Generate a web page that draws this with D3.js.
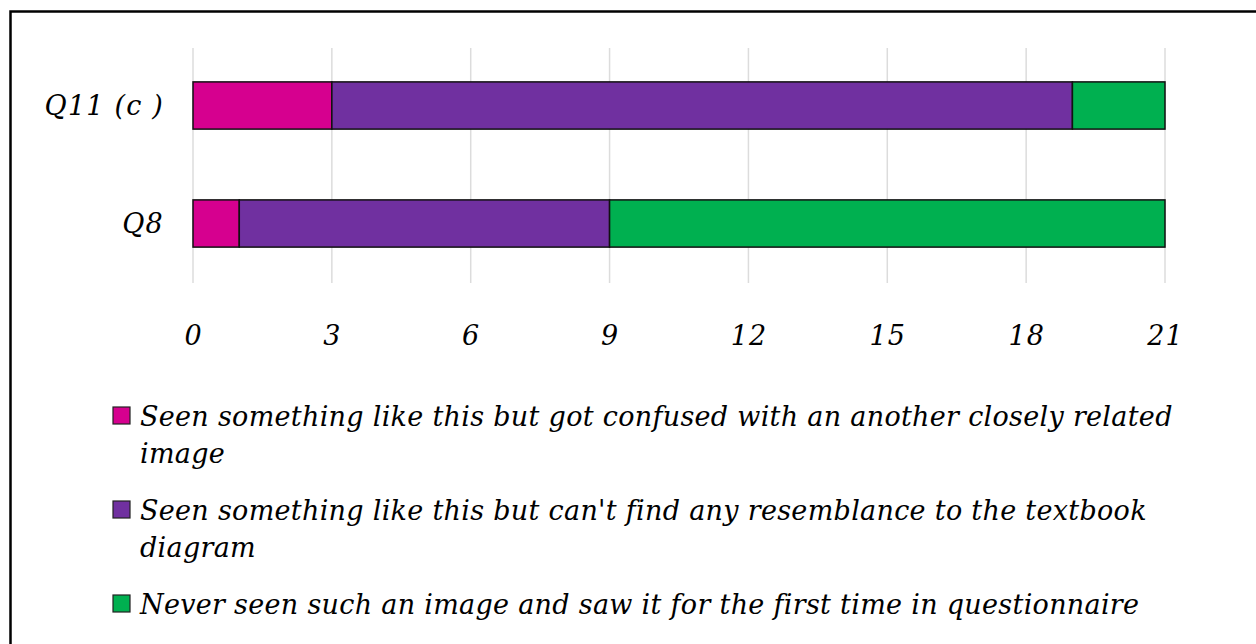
<html>
<head>
<meta charset="utf-8">
<style>
  body { margin: 0; background: #fff; }
  text { font-family: "DejaVu Serif", serif; font-style: italic; }
</style>
</head>
<body>
<script src="https://cdn.jsdelivr.net/npm/d3@7/dist/d3.min.js"></script>
<script>
var width = 1256;
var height = 644;

// data
var categories = ["Q11 (c )", "Q8"];
var seriesNames = [
  "Seen something like this but got confused with an another closely related image",
  "Seen something like this but can't find any resemblance to the textbook diagram",
  "Never seen such an image and saw it for the first time in questionnaire"
];
var confused = [3, 1];
var noResemblance = [16, 8];
var neverSeen = [2, 12];
var tickValues = [0, 3, 6, 9, 12, 15, 18, 21];
var colors = ["#d6008f", "#7030a0", "#00b050"];

var svg = d3.select("body").append("svg")
  .attr("width", width)
  .attr("height", height);

svg.append("rect").attr("width", width).attr("height", height).attr("fill", "#fff");

// outer frame (right and bottom edges fall outside the picture)
svg.append("rect")
  .attr("x", 10.5).attr("y", 11.5)
  .attr("width", width).attr("height", height)
  .attr("fill", "none")
  .attr("stroke", "#000")
  .attr("stroke-width", 2.5);

var x = d3.scaleLinear().domain([0, 21]).range([193, 1165]);
var y = d3.scaleBand().domain(categories).range([46.5, 282.5])
  .paddingInner(0.6).paddingOuter(0.3);

// gridlines
svg.append("g").selectAll("line")
  .data(tickValues)
  .enter().append("line")
  .attr("x1", function(d) { return x(d); })
  .attr("x2", function(d) { return x(d); })
  .attr("y1", 48).attr("y2", 283)
  .attr("stroke", "#dcdcdc")
  .attr("stroke-width", 1.5);

// stack the series
var rows = categories.map(function(c, i) {
  return { cat: c, s0: confused[i], s1: noResemblance[i], s2: neverSeen[i] };
});
var stack = d3.stack().keys(["s0", "s1", "s2"]);
var layers = stack(rows);

svg.append("g").selectAll("g")
  .data(layers)
  .enter().append("g")
  .attr("fill", function(d, i) { return colors[i]; })
  .selectAll("rect")
  .data(function(d) { return d; })
  .enter().append("rect")
  .attr("x", function(d) { return x(d[0]); })
  .attr("width", function(d) { return x(d[1]) - x(d[0]); })
  .attr("y", function(d) { return y(d.data.cat); })
  .attr("height", y.bandwidth())
  .attr("stroke", "#111")
  .attr("stroke-width", 1.5);

// x tick labels
var xAxis = d3.axisBottom(x).tickValues(tickValues).tickSize(0).tickPadding(0);
var gx = svg.append("g").attr("transform", "translate(0,345)").call(xAxis);
gx.select(".domain").remove();
gx.selectAll("text")
  .attr("dy", 0)
  .style("font-family", "DejaVu Serif")
  .style("font-style", "italic")
  .style("font-size", "27px")
  .style("letter-spacing", "1px")
  .attr("fill", "#000");

// category labels
var yAxis = d3.axisLeft(y).tickSize(0).tickPadding(0);
var gy = svg.append("g").attr("transform", "translate(164,0)").call(yAxis);
gy.select(".domain").remove();
gy.selectAll("text")
  .attr("dy", "0.35em")
  .style("font-family", "DejaVu Serif")
  .style("font-style", "italic")
  .style("font-size", "27px")
  .style("letter-spacing", "1.2px")
  .attr("fill", "#000");

// legend with wrapped labels
var legendX = 113;
var textX = 140;
var maxWidth = 1060;
var lineH = 37;
var itemGap = 20;
var cy = 407;

seriesNames.forEach(function(name, i) {
  var g = svg.append("g");
  g.append("rect")
    .attr("x", legendX).attr("y", cy)
    .attr("width", 17).attr("height", 17)
    .attr("fill", colors[i])
    .attr("stroke", "#222").attr("stroke-width", 1.2);
  var words = name.split(" ");
  var lines = [];
  var cur = [];
  var probe = g.append("text").style("font-size", "27px").style("letter-spacing", "0.3px");
  words.forEach(function(w) {
    cur.push(w);
    probe.text(cur.join(" "));
    if (probe.node().getComputedTextLength() > maxWidth && cur.length > 1) {
      cur.pop();
      lines.push(cur.join(" "));
      cur = [w];
    }
  });
  lines.push(cur.join(" "));
  probe.remove();
  lines.forEach(function(l, k) {
    g.append("text")
      .attr("x", textX)
      .attr("y", cy + 19 + k * lineH)
      .style("font-size", "27px")
      .style("letter-spacing", "0.3px")
      .attr("fill", "#000")
      .text(l);
  });
  cy += lines.length * lineH + itemGap;
});
</script>
</body>
</html>
